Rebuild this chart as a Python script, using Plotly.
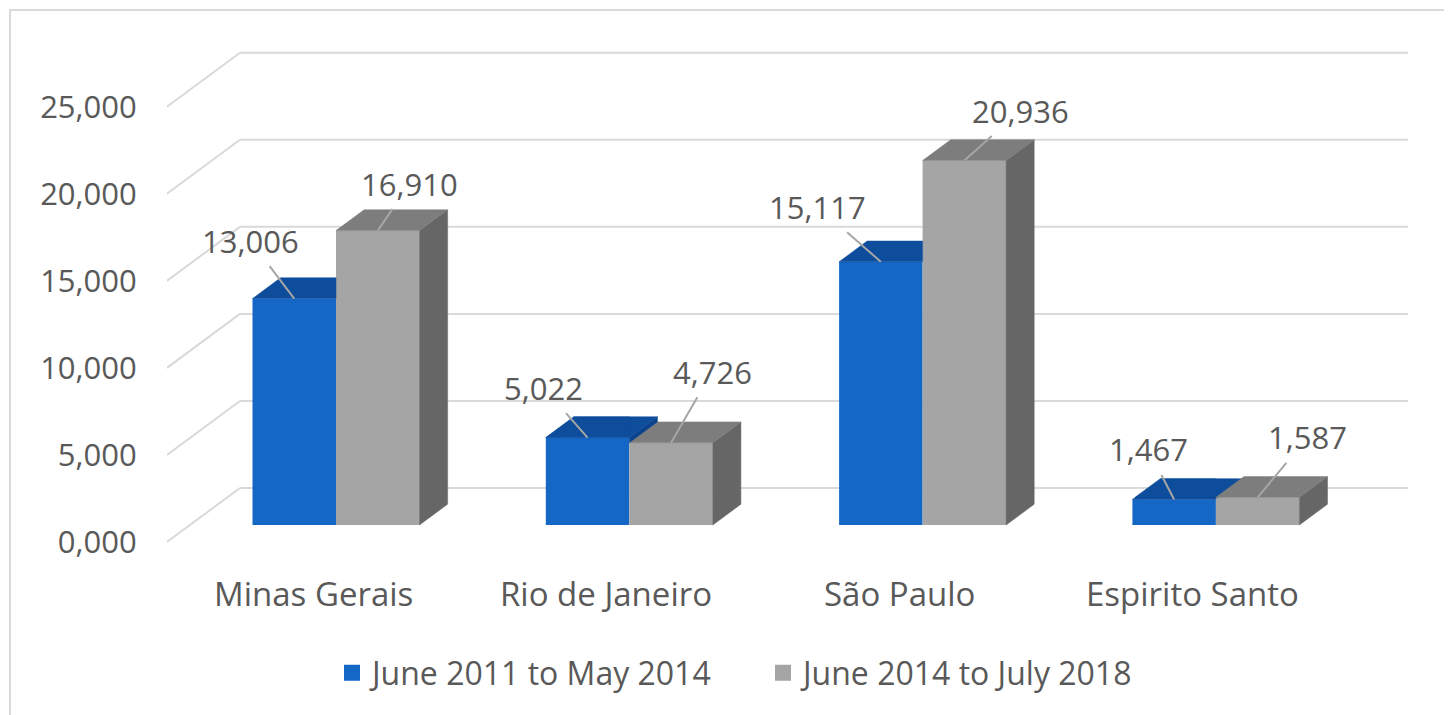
import plotly.graph_objects as go

# ---------------- data ----------------
categories = ["Minas Gerais", "Rio de Janeiro", "São Paulo", "Espirito Santo"]
series_names = ["June 2011 to May 2014", "June 2014 to July 2018"]
period_2011_2014 = [13006, 5022, 15117, 1467]
period_2014_2018 = [16910, 4726, 20936, 1587]
y_ticks = [0, 5000, 10000, 15000, 20000, 25000]

# ---------------- styles / layout constants ----------------
FRONT = ["#1567C6", "#A5A5A5"]
TOP = ["#0E4C9C", "#7D7D7D"]
SIDE = ["#0B428A", "#666666"]
TEXT = "#595959"
GRID = "#D9D9D9"
FONT = "Open Sans"

PAGE = 8            # default page body margin of the html page
CAT_PX = 293.3      # pixels per category step
VAL_PX = 0.01741    # pixels per value unit
ORIGIN_X = 336 - PAGE      # px of first group centre
ORIGIN_Y = 525 - PAGE      # px of value 0 on the bars' front plane
L_MARGIN = 167 - PAGE
W, H = 1452, 715
PW = W - L_MARGIN
DEPTH_DX, DEPTH_DY = 73, 54    # oblique projection of the full floor depth (px)
BAR_D0, BAR_D1 = 0.315, 0.70   # bar front / back depth (0 = front, 1 = back wall)
BAR_W = 0.2847                 # bar width in category units
WALL_L, WALL_R = -0.498, 3.485 # wall extent in category units

# label offsets (px) of each data label from the bar's top-front centre
LABEL_OFFSETS = [
    [(-44, -58), (-44, -50), (-63, -55), (-26, -50)],
    [(32, -47), (41, -71), (56, -50), (50, -60)],
]


def proj(x, v, d):
    """Oblique projection of (category, value, depth) onto the bars' front plane."""
    return (x + (d - BAR_D0) * DEPTH_DX / CAT_PX,
            v + (d - BAR_D0) * DEPTH_DY / VAL_PX)


def clip(poly, f):
    """Sutherland-Hodgman clip of a polygon against the half-plane f(p) >= 0."""
    out = []
    n = len(poly)
    for k in range(n):
        p, q = poly[k], poly[(k + 1) % n]
        fp, fq = f(p), f(q)
        if fp >= 0:
            out.append(p)
        if (fp >= 0) != (fq >= 0):
            t = fp / (fp - fq)
            out.append((p[0] + t * (q[0] - p[0]), p[1] + t * (q[1] - p[1])))
    return out if len(out) >= 3 else []


fig = go.Figure()

# ---------------- gridlines (back wall + left wall), drawn below the bars ----------------
shapes = []
for v in y_ticks:
    pts = [proj(x, v, d) for (x, d) in [(WALL_L, 0.0), (WALL_L, 1.0), (WALL_R, 1.0)]]
    for (a, b) in zip(pts[:-1], pts[1:]):
        shapes.append(dict(type="line", xref="x", yref="y", x0=a[0], y0=a[1], x1=b[0], y1=b[1],
                           line=dict(color=GRID, width=2), layer="below"))

# outer chart border
shapes.append(dict(type="rect", xref="paper", yref="paper",
                   x0=(10 - PAGE - L_MARGIN) / PW, x1=(1446 - PAGE - L_MARGIN) / PW,
                   y0=-0.05, y1=(H - 10 + PAGE) / H,
                   line=dict(color="#D9D9D9", width=2), fillcolor="rgba(0,0,0,0)", layer="below"))

# ---------------- bars: front faces ----------------
series = [period_2011_2014, period_2014_2018]
xs = list(range(len(categories)))
offsets = [-BAR_W, 0.0]
for s, vals in enumerate(series):
    fig.add_trace(go.Bar(x=xs, y=vals, width=[BAR_W] * len(xs), offset=offsets[s],
                         marker=dict(color=FRONT[s], line=dict(width=0)),
                         showlegend=False, hoverinfo="skip"))

# ---------------- bars: top and side faces (oblique projection) ----------------
faces = {}   # (layer, series, kind) -> list of polygons
for i in xs:
    order = sorted(range(len(series)), key=lambda s: series[s][i])   # shorter first
    for layer, s in enumerate(order):
        v = series[s][i]
        x0 = i + offsets[s]
        x1 = x0 + BAR_W
        top = [proj(x, v, d) for (x, d) in [(x0, BAR_D0), (x1, BAR_D0), (x1, BAR_D1), (x0, BAR_D1)]]
        nb = series[s + 1][i] if s + 1 < len(series) else None
        if nb is None:
            tops = [top]
        else:
            # the neighbour's front face hides the part right of x1 and below its height
            tops = [clip(top, lambda p, x1=x1: x1 - p[0]), clip(top, lambda p, nb=nb: p[1] - nb)]
        faces.setdefault((layer, s, "top"), []).extend([t for t in tops if t])
        base = nb if nb is not None else 0
        if v > base:
            side = [proj(x1, val, d) for (val, d) in [(base, BAR_D0), (v, BAR_D0), (v, BAR_D1), (base, BAR_D1)]]
            faces.setdefault((layer, s, "side"), []).append(side)

for layer in range(len(series)):
    for s in range(len(series)):
        for kind, color in [("side", SIDE[s]), ("top", TOP[s])]:
            polys = faces.get((layer, s, kind), [])
            if not polys:
                continue
            px_, py_ = [], []
            for poly in polys:
                for (a, b) in poly + [poly[0]]:
                    px_.append(a); py_.append(b)
                px_.append(None); py_.append(None)
            fig.add_trace(go.Scatter(x=px_, y=py_, mode="lines", fill="toself", fillcolor=color,
                                     line=dict(width=0.5, color=color), hoverinfo="skip",
                                     showlegend=False))

# legend entries
for s, name in enumerate(series_names):
    fig.add_trace(go.Scatter(x=[None], y=[None], mode="markers", name=name,
                             marker=dict(symbol="square", size=19, color=FRONT[s])))

annotations = []
# data labels with leader lines
for s, vals in enumerate(series):
    for i, v in zip(xs, vals):
        cx = i + offsets[s] + BAR_W / 2
        ax, ay = LABEL_OFFSETS[s][i]
        annotations.append(dict(x=cx, y=v, xref="x", yref="y", text=f"{v:,}",
                                showarrow=True, arrowhead=0, arrowwidth=2, arrowcolor="#A6A6A6",
                                ax=ax, ay=ay, borderpad=4, standoff=0,
                                font=dict(family=FONT, size=31, color=TEXT)))
# category labels (front floor)
for i, c in zip(xs, categories):
    lx, _ = proj(i, 0, 0.0)
    annotations.append(dict(x=lx, y=-68 / VAL_PX, xref="x", yref="y", text=c,
                            showarrow=False, font=dict(family=FONT, size=33, color=TEXT)))

tickvals = [proj(0, v, 0.0)[1] for v in y_ticks]
ticktext = [f"{v // 1000},{v % 1000:03d}" for v in y_ticks]

fig.update_layout(
    width=W, height=H,
    margin=dict(l=L_MARGIN, r=0, t=0, b=0, autoexpand=False),
    paper_bgcolor="white", plot_bgcolor="white",
    barmode="overlay",
    xaxis=dict(range=[(L_MARGIN - ORIGIN_X) / CAT_PX, (W - ORIGIN_X) / CAT_PX],
               visible=False, fixedrange=True),
    yaxis=dict(range=[(ORIGIN_Y - H) / VAL_PX, ORIGIN_Y / VAL_PX],
               showgrid=False, zeroline=False, showline=False,
               tickvals=tickvals, ticktext=ticktext, ticks="outside", ticklen=23,
               tickcolor="rgba(0,0,0,0)",
               tickfont=dict(family=FONT, size=31, color=TEXT), fixedrange=True),
    legend=dict(orientation="h", xref="paper", yref="paper",
                x=(332 - PAGE - L_MARGIN) / PW, y=1 - (673 - PAGE) / H,
                xanchor="left", yanchor="middle",
                font=dict(family=FONT, size=32, color=TEXT),
                bgcolor="rgba(0,0,0,0)", entrywidth=386, entrywidthmode="pixels",
                itemclick=False, itemdoubleclick=False),
    annotations=annotations,
    shapes=shapes,
    hovermode=False,
)

fig.write_html("out.html")
